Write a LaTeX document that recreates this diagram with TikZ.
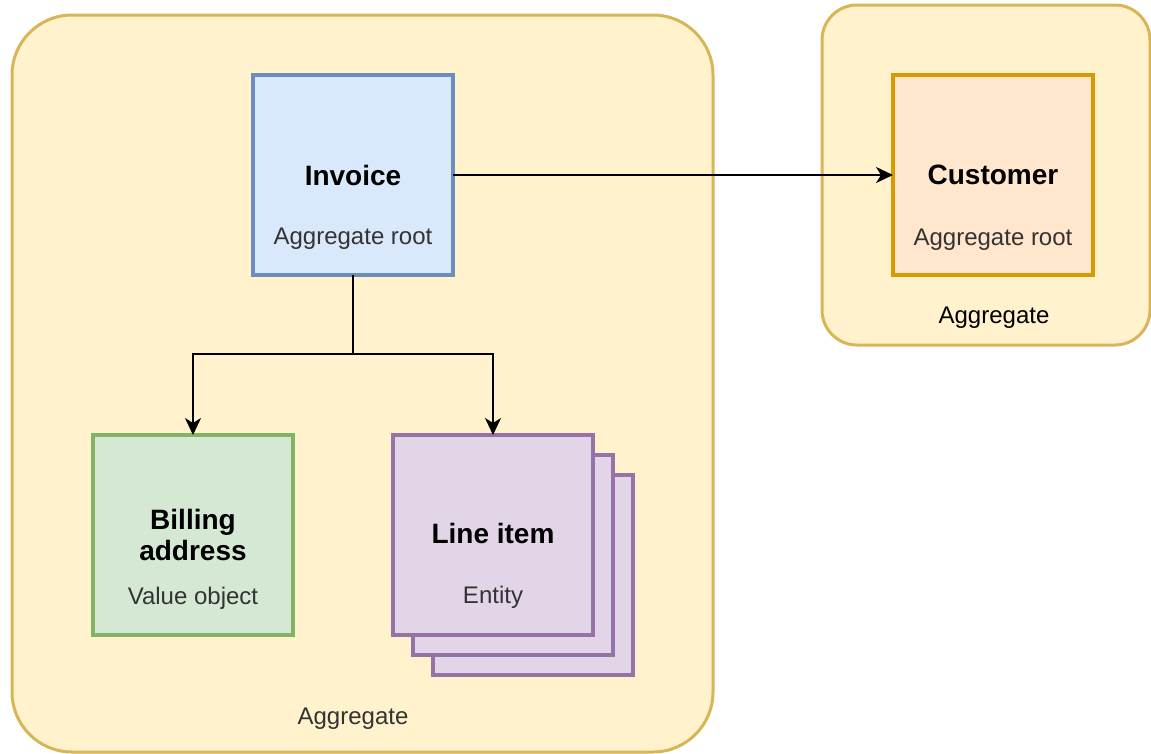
\documentclass[tikz,border=0pt]{standalone}
\usepackage{fontspec}
\setmainfont{Liberation Sans}
\usetikzlibrary{arrows.meta}

\definecolor{aggfill}{HTML}{FFF2CC}
\definecolor{aggline}{HTML}{D6B656}
\definecolor{bluefill}{HTML}{DAE8FC}
\definecolor{blueline}{HTML}{6C8EBF}
\definecolor{orangefill}{HTML}{FFE6CC}
\definecolor{orangeline}{HTML}{D79B00}
\definecolor{greenfill}{HTML}{D5E8D4}
\definecolor{greenline}{HTML}{82B366}
\definecolor{purplefill}{HTML}{E1D5E7}
\definecolor{purpleline}{HTML}{9673A6}
\definecolor{subtext}{HTML}{333333}

\tikzset{
  aggregatebox/.style={draw=aggline, fill=aggfill, line width=3pt, anchor=north west,
    inner sep=0pt, outer sep=0pt},
  itembox/.style={line width=3.5pt, anchor=north west, inner sep=0pt, outer sep=0pt,
    minimum width=200pt, minimum height=200pt},
  titletext/.style={anchor=base, inner sep=0pt, font=\fontsize{28}{32}\selectfont\bfseries},
  subtitle/.style={anchor=base, inner sep=0pt, text=subtext, font=\fontsize{24}{28}\selectfont},
  link/.style={line width=2pt, -{Stealth[length=17pt, width=16pt, inset=5pt]}},
}

\begin{document}
\begin{tikzpicture}[x=1pt, y=-1pt]
\useasboundingbox (0,0) rectangle (1151,753);

% aggregates
\node[aggregatebox, rounded corners=60pt, minimum width=701pt, minimum height=737pt] (aggA) at (12,15) {};
\node[aggregatebox, rounded corners=35pt, minimum width=328pt, minimum height=340pt] (aggB) at (822,5) {};
\node[subtitle] (aggAlabel) at (353,724) {Aggregate};
\node[subtitle, text=black] (aggBlabel) at (994,323) {Aggregate};

% invoice
\node[itembox, draw=blueline, fill=bluefill] (inv) at (253,75) {};
\node[titletext] (invtitle) at (353,185) {Invoice};
\node[subtitle] (invsub) at (353,244) {Aggregate root};

% customer
\node[itembox, draw=orangeline, fill=orangefill] (cust) at (893,75) {};
\node[titletext] (custtitle) at (993,184) {Customer};
\node[subtitle] (custsub) at (993,245) {Aggregate root};

% billing address
\node[itembox, draw=greenline, fill=greenfill] (bill) at (93,435) {};
\node[titletext] (billtitle1) at (193,529) {Billing};
\node[titletext] (billtitle2) at (193,560) {address};
\node[subtitle] (billsub) at (193,604) {Value object};

% line items (stacked)
\node[itembox, draw=purpleline, fill=purplefill] (li3) at (433,475) {};
\node[itembox, draw=purpleline, fill=purplefill] (li2) at (413,455) {};
\node[itembox, draw=purpleline, fill=purplefill] (li) at (393,435) {};
\node[titletext] (lititle) at (493,543) {Line item};
\node[subtitle] (lisub) at (493,603) {Entity};

% connectors
\coordinate (split) at (inv.south |- 0,354);
\draw[link] (inv.east) -- (cust.west);
\draw[line width=2pt] (inv.south) -- (split);
\draw[link] (split) -| (bill.north);
\draw[link] (split) -| (li.north);
\end{tikzpicture}
\end{document}
